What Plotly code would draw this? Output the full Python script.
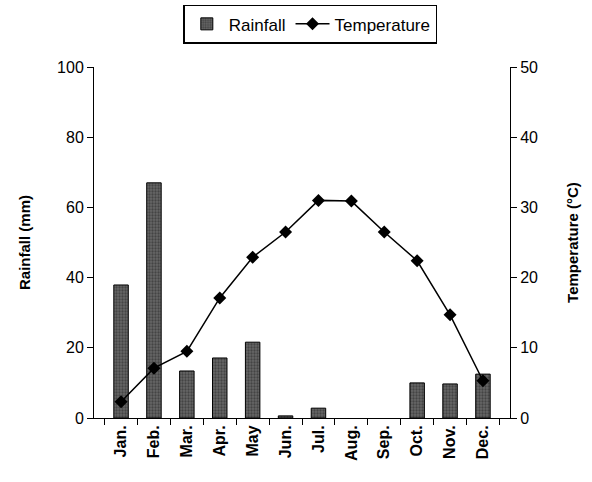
import plotly.graph_objects as go

months = ["Jan.", "Feb.", "Mar.", "Apr.", "May", "Jun.", "Jul.", "Aug.", "Sep.", "Oct.", "Nov.", "Dec."]
rainfall = [37.9, 67.0, 13.4, 17.1, 21.6, 0.6, 2.8, 0, 0, 10.0, 9.7, 12.5]
temperature = [2.3, 7.1, 9.5, 17.1, 22.9, 26.5, 31.0, 30.9, 26.5, 22.4, 14.7, 5.3]

bar_outline = [1 if v > 0 else 0 for v in rainfall]

fig = go.Figure()
fig.add_trace(go.Bar(
    x=months, y=rainfall, name="Rainfall", yaxis="y",
    width=0.44,
    marker=dict(color="#555555", line=dict(color="black", width=bar_outline),
                pattern=dict(shape=".", fgcolor="#222222", bgcolor="#666666", size=3, solidity=0.45)),
))
fig.add_trace(go.Scatter(
    x=months, y=temperature, name="Temperature", yaxis="y2",
    mode="lines+markers",
    line=dict(color="black", width=1.5),
    marker=dict(symbol="diamond", size=10, color="black"),
))

fam = "Liberation Sans, Arial, sans-serif"
font = dict(family=fam, color="black")
fig.update_layout(
    width=592, height=482,
    margin=dict(l=94, r=82, t=67, b=64),
    paper_bgcolor="white", plot_bgcolor="white",
    font=dict(size=16, **font),
    showlegend=True,
    legend=dict(orientation="h", x=0.52, xanchor="center", y=0.99, yanchor="top",
                yref="container", bordercolor="black", borderwidth=1.5,
                font=dict(size=17, **font), itemwidth=34, tracegroupgap=0),
    xaxis=dict(type="category", showline=True, linecolor="black", linewidth=1,
               ticks="outside", tickson="boundaries", ticklen=6, tickcolor="black",
               tickangle=-90, tickfont=dict(size=16, family=fam, color="black", weight="bold"),
               showgrid=False, zeroline=False),
    yaxis=dict(range=[0, 100], dtick=20, showline=True, linecolor="black", linewidth=1,
               ticks="outside", ticklen=6, tickcolor="black", showgrid=False, zeroline=False,
               tickfont=dict(size=16, **font),
               title=dict(text="<b>Rainfall (mm)</b>", font=dict(size=15, **font), standoff=22)),
    yaxis2=dict(range=[0, 50], dtick=10, overlaying="y", side="right",
                showline=True, linecolor="black", linewidth=1,
                ticks="outside", ticklen=6, tickcolor="black", showgrid=False, zeroline=False,
                tickfont=dict(size=16, **font),
                title=dict(text="<b>Temperature (°C)</b>", font=dict(size=15, **font), standoff=30)),
)
fig.write_html("out.html", config={"displayModeBar": False},
               post_script="document.body.style.margin='0';document.body.style.padding='0';")
